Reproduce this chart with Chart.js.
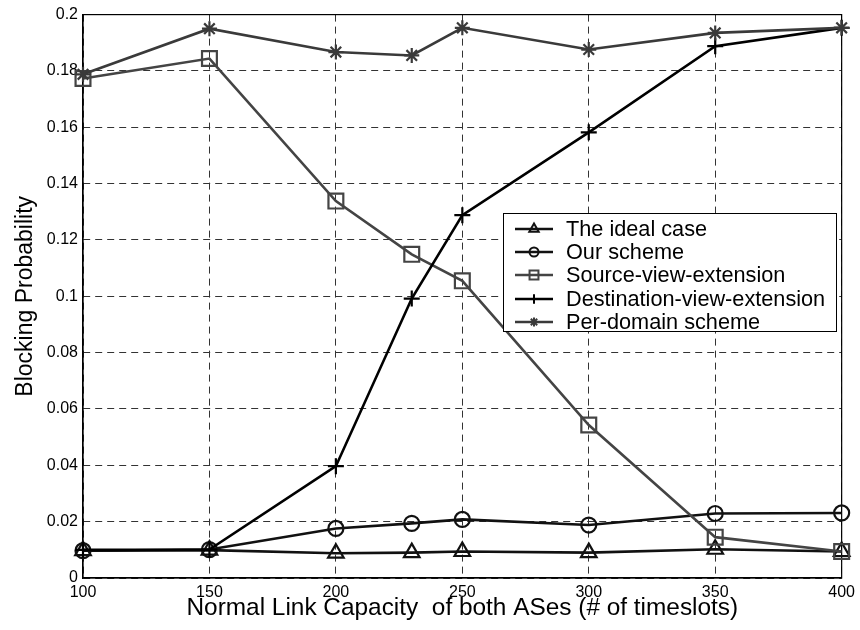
<!DOCTYPE html>
<html>
<head>
<meta charset="utf-8">
<script src="https://cdn.jsdelivr.net/npm/chart.js@4"></script>
<style>
    body { margin: 0; background: #fff; }
    #wrap { position: relative; width: 860px; height: 630px; }
    #legend {
        position: absolute; left: 503px; top: 213px; width: 334px; height: 119px;
        border: 1px solid #000; background: #fff;
        font-family: "Liberation Sans", Arial, sans-serif; font-size: 21.7px; color: #000;
        box-sizing: border-box; padding-top: 3px;
    }
    .row { height: 23.4px; display: flex; align-items: center; }
    .row canvas { margin-left: 10px; margin-right: 12px; }
</style>
</head>
<body>
<div id="wrap">
    <canvas id="chart"></canvas>
    <div id="legend"></div>
</div>
<script>
// Blocking probability vs normal link capacity

const capacities = [100, 150, 200, 230, 250, 300, 350, 400];

const idealCase = [0.0097, 0.0099, 0.0088, 0.0090, 0.0094, 0.0090, 0.0102, 0.0094];
const ourScheme = [0.0097, 0.0101, 0.0176, 0.0194, 0.0208, 0.0188, 0.0229, 0.0231];
const sourceView = [0.1773, 0.1844, 0.1338, 0.1149, 0.1055, 0.0543, 0.0145, 0.0094];
const destView = [0.0100, 0.0101, 0.0397, 0.0992, 0.1288, 0.1582, 0.1888, 0.1953];
const perDomain = [0.1788, 0.1950, 0.1867, 0.1855, 0.1953, 0.1876, 0.1935, 0.1953];

const seriesNames = ['The ideal case', 'Our scheme', 'Source-view-extension', 'Destination-view-extension', 'Per-domain scheme'];

const xTicks = [100, 150, 200, 250, 300, 350, 400];
const yTicks = [0, 0.02, 0.04, 0.06, 0.08, 0.1, 0.12, 0.14, 0.16, 0.18, 0.2];
const yTickLabels = ['0', '0.02', '0.04', '0.06', '0.08', '0.1', '0.12', '0.14', '0.16', '0.18', '0.2'];

const FONT = '"Liberation Sans", Arial, sans-serif';

// style per series: color, marker, marker size
const styles = [
    { color: '#111', style: 'triangle', radius: 9 },
    { color: '#111', style: 'circle', radius: 7.5 },
    { color: '#444', style: 'rect', radius: 10.5 },
    { color: '#000', style: 'cross', radius: 8 },
    { color: '#3a3a3a', style: 'star', radius: 7.5 }
];

const allSeries = [idealCase, ourScheme, sourceView, destView, perDomain];

const datasets = allSeries.map((values, i) => ({
    label: seriesNames[i],
    data: capacities.map((c, j) => ({ x: c, y: values[j] })),
    borderColor: styles[i].color,
    backgroundColor: 'transparent',
    borderWidth: 2.6,
    pointStyle: styles[i].style,
    pointRadius: styles[i].radius,
    pointBorderWidth: 2.2,
    pointBorderColor: styles[i].color,
    pointBackgroundColor: 'transparent',
    pointHoverRadius: styles[i].radius,
    tension: 0,
    clip: false,
    order: allSeries.length - i
}));

// box around the plot area
const frame = {
    id: 'frame',
    beforeDatasetsDraw(chart) {
        const a = chart.chartArea;
        const ctx = chart.ctx;
        ctx.save();
        ctx.strokeStyle = '#000';
        ctx.lineWidth = 1.2;
        ctx.strokeRect(a.left, a.top, a.right - a.left, a.bottom - a.top);
        ctx.restore();
    }
};

new Chart(document.getElementById('chart'), {
    type: 'line',
    data: { datasets },
    options: {
        responsive: true,
        maintainAspectRatio: false,
        animation: false,
        events: [],
        layout: { padding: { top: 13, right: 14, left: 0, bottom: 0 } },
        plugins: {
            legend: { display: false },
            tooltip: { enabled: false }
        },
        scales: {
            x: {
                type: 'linear',
                min: 100,
                max: 400,
                afterBuildTicks: s => { s.ticks = xTicks.map(v => ({ value: v })); },
                afterFit: s => { s.height = 52; },
                grid: { color: '#333', lineWidth: 1, drawTicks: false },
                border: { display: true, color: '#000', width: 1.2, dash: [7, 5] },
                ticks: {
                    color: '#000', padding: 5, maxRotation: 0, autoSkip: false,
                    font: { family: FONT, size: 16 }
                },
                title: {
                    display: true,
                    text: 'Normal Link Capacity  of both ASes (# of timeslots)',
                    color: '#000',
                    font: { family: FONT, size: 24.4 },
                    padding: { top: 0, bottom: 7 }
                }
            },
            y: {
                min: 0,
                max: 0.2,
                afterBuildTicks: s => { s.ticks = yTicks.map(v => ({ value: v })); },
                afterFit: s => { s.width = 83; },
                grid: { color: '#333', lineWidth: 1, drawTicks: false },
                border: { display: true, color: '#000', width: 1.2, dash: [7, 5] },
                ticks: {
                    color: '#000', padding: 5, autoSkip: false,
                    font: { family: FONT, size: 16 },
                    callback: (v, i) => yTickLabels[i]
                },
                title: {
                    display: true,
                    text: 'Blocking Probability',
                    color: '#000',
                    font: { family: FONT, size: 23 },
                    padding: { top: 12, bottom: 0 }
                }
            }
        }
    },
    plugins: [frame]
});

// legend inside the plot, line + marker icons
const legend = document.getElementById('legend');
seriesNames.forEach((name, i) => {
    const row = document.createElement('div');
    row.className = 'row';
    const icon = document.createElement('canvas');
    icon.width = 40;
    icon.height = 20;
    const c = icon.getContext('2d');
    c.strokeStyle = styles[i].color;
    c.lineWidth = 2.6;
    c.beginPath();
    c.moveTo(1, 10);
    c.lineTo(39, 10);
    c.stroke();
    c.lineWidth = 2;
    c.fillStyle = 'rgba(0,0,0,0)';
    if (Chart.helpers && Chart.helpers.drawPoint) {
        Chart.helpers.drawPoint(c, {
            pointStyle: styles[i].style,
            radius: styles[i].radius * 0.6,
            rotation: 0,
            borderWidth: 2
        }, 20, 10);
    }
    const label = document.createElement('span');
    label.textContent = name;
    row.appendChild(icon);
    row.appendChild(label);
    legend.appendChild(row);
});
</script>
</body>
</html>
